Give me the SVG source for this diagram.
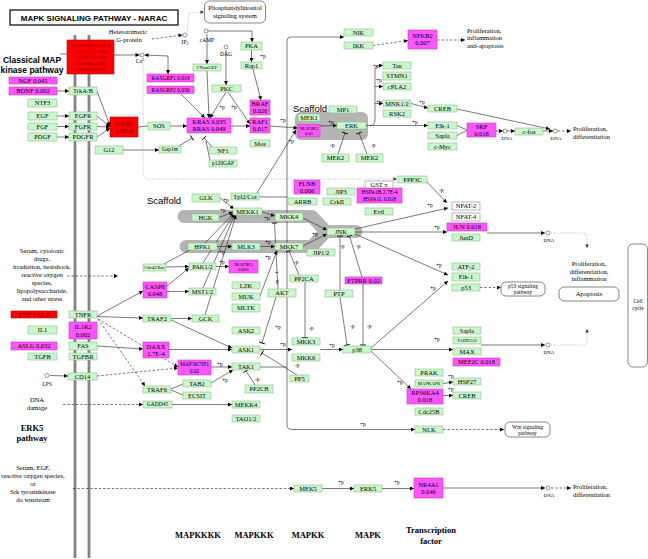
<svg xmlns="http://www.w3.org/2000/svg" width="648" height="559" viewBox="0 0 648 559">
<style>
.g{fill:#ccf7cc;stroke:#8cbf8c;stroke-width:.6}
.m{fill:#ff55ff;stroke:#c040c0;stroke-width:.6}
.r{fill:#ff0000;stroke:#c00000;stroke-width:.6}
.w{fill:#fff;stroke:#888;stroke-width:.6}
.pw{fill:#fff;stroke:#555;stroke-width:.7}
text{font-family:"Liberation Serif","Times New Roman",serif;fill:#000}
.t{font-size:6.5px;text-anchor:middle}
.s{font-size:5.5px;text-anchor:middle}
.xs{font-size:4.6px;text-anchor:middle}
.rt{fill:#7a0000}
.a{font-size:6.5px;text-anchor:middle}
.al{font-size:6.5px}
.p{font-size:5.5px;fill:#222}
.dna{font-size:5px;text-anchor:middle}
.bs{font-weight:bold;font-size:8.5px;text-anchor:middle}
.sf{font-family:"Liberation Sans",Arial,sans-serif}
.c path{fill:none;stroke:#222;stroke-width:.6}
.c .ar{marker-end:url(#a)}
.c .in{marker-end:url(#b)}
.c .da{stroke-dasharray:2.5 1.8}
.c .dt{stroke:#999;stroke-dasharray:1 1.2;marker-end:url(#ag)}
.ci{fill:#fff;stroke:#333;stroke-width:.5}
</style>
<defs>
<marker id="a" viewBox="0 0 6 6" refX="6" refY="3" markerWidth="4.5" markerHeight="4" markerUnits="userSpaceOnUse" orient="auto-start-reverse"><path d="M0,0 L6,3 L0,6 z" fill="#000"/></marker>
<marker id="ag" viewBox="0 0 6 6" refX="6" refY="3" markerWidth="4" markerHeight="3.5" markerUnits="userSpaceOnUse" orient="auto"><path d="M0,0 L6,3 L0,6 z" fill="#333"/></marker>
<marker id="b" viewBox="0 0 2 8" refX="1" refY="4" markerWidth="1.5" markerHeight="6" markerUnits="userSpaceOnUse" orient="auto"><path d="M1,0 V8" stroke="#000" stroke-width="1.2"/></marker>
</defs>
<rect width="648" height="559" fill="#fff"/>

<!-- membrane -->
<g id="membrane" stroke="#858585" stroke-width="2.8">
<line x1="75" y1="35" x2="75" y2="558"/>
<line x1="89" y1="35" x2="89" y2="558"/>
</g>

<!-- scaffolds -->
<g id="scaffolds" fill="none" stroke="#b4b4b4" stroke-linecap="round" stroke-linejoin="round">
<rect x="295" y="112" width="73" height="28" rx="6" fill="#b4b4b4" stroke="none"/>
<path d="M184,216.5 L312,216.5 L326,231.5 L356,231.5 M186,246.5 L312,246.5 L326,231.5" stroke-width="13"/>
</g>

<!-- titles and annotations -->
<g id="title">
<rect x="10" y="10" width="168" height="15" fill="#fff" stroke="#000" stroke-width="1.2"/>
<text class="sf" x="94" y="20.8" font-size="8" font-weight="bold" text-anchor="middle">MAPK SIGNALING PATHWAY - NARAC</text>
</g>
<g id="annotations">
<text class="sf" x="32" y="63" font-size="8.5" font-weight="bold" text-anchor="middle">Classical MAP</text>
<text class="sf" x="32" y="73" font-size="8.5" font-weight="bold" text-anchor="middle">kinase pathway</text>
<text class="sf" x="293" y="111.5" font-size="9.5">Scaffold</text>
<text class="sf" x="147" y="204" font-size="9.5">Scaffold</text>
<text class="a" x="128" y="34">Heterotrimeric</text>
<text class="a" x="129" y="41.5">G-protein</text>
<text class="s" x="185" y="44">IP<tspan font-size="4" dy="1">3</tspan></text>
<text class="s" x="141" y="63">Ca<tspan font-size="4" dy="-2">2+</tspan></text>
<text class="s" x="207" y="41.5">cAMP</text>
<text class="s" x="226" y="56">DAG</text>
<text class="s" x="47" y="386">LPS</text>
<g class="a">
<text x="42" y="252.5">Serum, cytotoxic</text>
<text x="42" y="260.5">drugs,</text>
<text x="42" y="268.5">irradiation, heatshock,</text>
<text x="42" y="276.5">reactive oxygen</text>
<text x="42" y="284.5">species,</text>
<text x="42" y="292.5">lipopolysaccharide,</text>
<text x="42" y="300.5">and other stress</text>
<text x="37" y="402">DNA</text>
<text x="37" y="410">damage</text>
<text x="33" y="469.5">Serum, EGF,</text>
<text x="33" y="477.5">reactive oxygen species,</text>
<text x="33" y="485.5">or</text>
<text x="33" y="493.5">Srk tyrosinkinase</text>
<text x="33" y="501.5">do wnstream</text>
<text x="589" y="266">Proliferation,</text>
<text x="589" y="273.5">differentiation,</text>
<text x="589" y="281">inflammation</text>
</g>
<text class="bs" x="32" y="431" font-size="8">ERK5</text>
<text class="bs" x="32" y="441" font-size="8">pathway</text>
<g class="al">
<text x="467" y="32.5">Proliferation,</text>
<text x="467" y="40">inflammation</text>
<text x="467" y="48">anti-apoptosis</text>
<text x="573" y="130.5">Proliferation,</text>
<text x="573" y="138.5">differentiation</text>
<text x="573" y="489">Proliferation,</text>
<text x="573" y="497">differentiation</text>
</g>
<g class="dna">
<text x="507" y="140">DNA</text>
<text x="556" y="140">DNA</text>
<text x="549" y="242">DNA</text>
<text x="549" y="354">DNA</text>
<text x="549" y="497">DNA</text>
</g>
<text class="bs" x="198" y="538">MAPKKKK</text>
<text class="bs" x="254" y="538">MAPKKK</text>
<text class="bs" x="308" y="538">MAPKK</text>
<text class="bs" x="368" y="538">MAPK</text>
<text class="bs" x="431" y="533">Transcription</text>
<text class="bs" x="431" y="544">factor</text>
</g>

<!-- connectors -->
<g id="connectors" class="c">
<path class="ar" d="M57,91 L69,91"/>
<path class="ar" d="M57,116 L69,116"/>
<path class="ar" d="M57,126.5 L69,126.5"/>
<path class="ar" d="M57,137 L69,137"/>
<path class="ar" d="M97,91 L110,126"/>
<path class="ar" d="M97,116 L110,126.5"/>
<path class="ar" d="M97,126.5 L110,127"/>
<path class="ar" d="M97,137 L110,128"/>
<path d="M138,127 L148,126"/>
<path class="ar" d="M170,126 L187,126"/>
<path class="ar" d="M123,150 L159,150"/>
<path class="in" d="M179,146 L192,138"/>
<path class="in" d="M212,147 L204,138"/>
<path d="M210,160.5 L206,141"/>
<path class="ar" d="M231,126 L250,126"/>
<path class="ar" d="M226,92 L210,118"/>
<path class="ar" d="M228,92 L250,124"/>
<path class="ar" d="M226,50 L226,85"/>
<path class="ar" d="M207,34 L207,64"/>
<path class="ar" d="M207,71 L209,118"/>
<path class="ar" d="M208,31 L252,31 L252,42"/>
<path class="ar" d="M251.5,50 L251.5,62"/>
<path class="ar" d="M253,69 L261,100"/>
<path class="ar" d="M180,93 L205,118"/>
<path d="M60,54 L67,54"/>
<path class="ar" d="M114,55 L139.5,55"/>
<path class="ar" d="M144.5,55 L168,56 L168,74" style="marker-start:url(#a)"/>
<path class="ar da" d="M152,39 L182.5,35"/>
<path class="dt" d="M187,31.5 L189,13 L204,12"/>
<path class="dt" d="M143,58 L143,173 Q143,179 149,179 L397,179"/>
<path class="ar" d="M270,126 L297.5,128"/>
<path class="ar" d="M257,193 L296,130"/>
<path class="ar" d="M320,126 L337,125.5"/>
<path class="in" d="M338,154 L345,133"/>
<path class="in" d="M367,154 L359,133"/>
<path class="ar" d="M366,125.5 L428,125.5"/>
<path class="ar" d="M370,125.5 Q375,125.5 375,120 L375,70 Q375,65.5 380,65.5 L383,65.5"/>
<path class="ar" d="M375,86.5 L383,86.5"/>
<path class="ar" d="M375,103.5 L383,103.5"/>
<path class="ar" d="M411,103.5 L428,108"/>
<path class="ar" d="M457,109 L550,129"/>
<path d="M457,125.5 L467,130 M457,135.5 L467,130.5"/>
<path class="ar" d="M496,131 L503,131"/>
<path class="ar" d="M507,131 L515,131"/>
<path class="ar" d="M543,131 L553,131"/>
<path class="ar da" d="M557.5,131 L571,131"/>
<path class="ar" d="M287,425 L287,41 Q287,37 291,37 L344,37"/>
<path class="ar" d="M287,425 Q287,429.5 291.5,429.5 L415,429.5"/>
<path d="M259,197 L287,197"/>
<path d="M260,367 L287,367"/>
<path class="ar da" d="M373,45.5 L408,40.5"/>
<path class="ar da" d="M437,40 L465,40"/>
<path class="ar" d="M220,198 L234,209"/>
<path class="ar" d="M219,217.5 L233,212"/>
<path class="ar" d="M205,243 L234,213"/>
<path class="ar" d="M203,263 L234.5,213.5"/>
<path class="ar" d="M203,288 L235,214"/>
<path class="ar" d="M205,315 L236,215"/>
<path class="ar" d="M262,212 L275,216"/>
<path class="ar" d="M217,246.5 L232,246.5"/>
<path class="ar" d="M260,246.5 L275,246.5"/>
<path class="ar" d="M260,296 L277,250.5"/>
<path class="ar" d="M303,218 L327,230"/>
<path class="ar" d="M303,246 L327,234"/>
<path class="ar" d="M166,267 L189,266.5"/>
<path class="ar" d="M167,286 L189,268"/>
<path class="ar" d="M167,291.5 L189,291.5"/>
<path d="M164,264 L190,250"/>
<path class="ar" d="M216,266.5 L229,266.5"/>
<path class="ar" d="M97,316 L143,291"/>
<path class="ar" d="M97,316.5 L143,318"/>
<path class="ar" d="M97,346 L143,349"/>
<path class="ar" d="M171,318.5 L192,318.5"/>
<path class="ar" d="M171,320 L232,348"/>
<path class="ar" d="M169,349.5 L232,349.5"/>
<path class="ar" d="M260,349.5 L292,349.5"/>
<path class="ar" d="M320,349.5 L343,349.5"/>
<path class="in" d="M276,297 L262,343"/>
<path class="in" d="M278,289 L274.5,223"/>
<path class="in" d="M299,275 L289,251"/>
<path class="in" d="M305,282 L305,337.5"/>
<path class="in" d="M297,375 L262,353"/>
<path class="ar" d="M211,367 L232,367"/>
<path class="ar" d="M211,383 L233,370"/>
<path class="in" d="M255,385 L246,371"/>
<path d="M171,389 L183,384 M171,390 L183,395"/>
<path class="ar" d="M172,404.5 L232,404.5"/>
<path class="ar da" d="M98,319 L145,386"/>
<path class="ar da" d="M98,319 L178,367"/>
<path class="ar da" d="M97,376 L178,368"/>
<path class="ar" d="M50,375.5 L68,376"/>
<path class="ar da" d="M63,404.5 L143,404.5"/>
<path class="ar da" d="M67,276 L118,276"/>
<path class="ar" d="M355,229 L448,208"/>
<path class="ar" d="M427,182 L447,203"/>
<path class="ar" d="M355,232 L447,232"/>
<path class="ar" d="M487,233 L545,233"/>
<path class="dt" d="M551,233 L583,233 Q587,233 587,238 L587,248"/>
<path class="ar" d="M355,234 L448,275"/>
<path class="ar" d="M371,348 L448,281"/>
<path class="ar da" d="M480,287.5 L501,287.5"/>
<path class="in" d="M340,290 L340,236"/>
<path class="in" d="M362,277 L349.5,236"/>
<path class="in" d="M340,297 L347,345"/>
<path class="in" d="M363,284 L363,345"/>
<path class="ar" d="M371,349.5 L453,349.5"/>
<path class="ar" d="M481,345 L545,345"/>
<path class="dt" d="M551,345 L583,345 Q587,345 587,340 L587,329"/>
<path class="ar" d="M371,351 L411,389"/>
<path class="ar" d="M443,383.5 L453,382"/>
<path class="ar" d="M443,395.5 L453,395.5"/>
<path class="ar da" d="M443,429.5 L504,429.5"/>
<path class="ar da" d="M73,488.5 L294,488.5"/>
<path class="ar" d="M322,488.5 L354,488.5"/>
<path class="ar" d="M382,488.5 L414,488.5"/>
<path class="ar" d="M443,488 L545,488"/>
<path class="ar da" d="M551,488 L571,488"/>
</g>

<!-- phosphorylation labels -->
<g id="plabels" class="p">
<text x="260" y="58">+p</text><text x="219" y="109">+p</text><text x="231" y="109">+p</text>
<text x="280" y="122">+p</text><text x="288" y="143">+p</text><text x="328" y="124">+p</text>
<text x="330" y="147">-p</text><text x="371" y="147">-p</text><text x="373" y="68">+p</text>
<text x="376" y="82">+p</text><text x="376" y="104">+p</text><text x="419" y="104">+p</text>
<text x="412" y="124">+p</text><text x="223" y="202">+p</text><text x="220" y="212">+p</text>
<text x="264" y="220">+p</text><text x="312" y="236">+p</text><text x="265" y="244">+p</text>
<text x="219" y="254">+p</text><text x="265" y="259">+p</text><text x="219" y="264">+p</text>
<text x="294" y="264">-p</text><text x="275" y="275">+</text><text x="276" y="283">p</text>
<text x="275" y="329">+p</text><text x="309" y="330">-p</text><text x="280" y="346">+p</text>
<text x="295" y="367">-p</text><text x="217" y="366">+p</text><text x="222" y="382">+p</text>
<text x="255" y="381">-p</text><text x="329" y="347">+p</text><text x="340" y="248">-p</text>
<text x="356" y="248">-p</text><text x="350" y="328">-p</text><text x="367" y="328">-p</text>
<text x="427" y="207">+p</text><text x="439" y="192">-p</text><text x="434" y="229">+p</text>
<text x="436" y="267">+p</text><text x="430" y="290">+p</text><text x="434" y="341">+p</text>
<text x="397" y="384">+p</text><text x="448" y="378">+p</text><text x="448" y="391">+p</text>
<text x="360" y="426">+p</text><text x="338" y="484">+p</text><text x="394" y="484">+p</text>
</g>

<!-- compounds -->
<g id="compounds" class="ci">
<circle cx="185" cy="35" r="2"/><circle cx="206" cy="31" r="2"/><circle cx="226" cy="47" r="2"/>
<circle cx="142" cy="55" r="2"/><circle cx="505" cy="131" r="2"/><circle cx="555" cy="131" r="2"/>
<circle cx="548" cy="233" r="2"/><circle cx="548" cy="345" r="2"/><circle cx="548" cy="488" r="2"/>
<circle cx="47" cy="375.5" r="2"/>
</g>

<!-- pathway maps -->
<g id="map-phosphatidylinositol"><rect class="pw" x="204.5" y="1" width="61" height="22" rx="5"/><text class="a" x="235" y="9.5">Phosphatidylinositol</text><text class="a" x="235" y="17.5">signaling system</text></g>
<g id="map-p53"><rect class="pw" x="501" y="282" width="44" height="14" rx="5"/><text class="s" x="523" y="288">p53 signaling</text><text class="s" x="523" y="294">pathway</text></g>
<g id="map-apoptosis"><rect class="pw" x="559" y="287" width="60" height="14" rx="5"/><text class="a" x="589" y="296">Apoptosis</text></g>
<g id="map-cellcycle"><rect class="pw" x="628" y="244" width="19.5" height="123" rx="5"/><text class="s" x="638" y="303">Cell</text><text class="s" x="638" y="310">cycle</text></g>
<g id="map-wnt"><rect class="pw" x="505" y="422" width="45" height="15" rx="5"/><text class="s" x="527.5" y="428.5">Wnt signaling</text><text class="s" x="527.5" y="435">pathway</text></g>

<!-- nodes: left -->
<g id="NGF"><rect class="m" x="9" y="77" width="48" height="7"/><text class="t" x="33" y="82.6">NGF 0.045</text></g>
<g id="BDNF"><rect class="m" x="9" y="87" width="48" height="8"/><text class="t" x="33" y="93.1">BDNF 0.002</text></g>
<g id="TrkAB"><rect class="g" x="69" y="87" width="28" height="8"/><text class="t" x="83" y="93.1">TrkA/B</text></g>
<g id="NTF3"><rect class="g" x="28" y="99" width="29" height="8"/><text class="t" x="42.5" y="105.1">NTF3</text></g>
<g id="EGF"><rect class="g" x="28" y="112" width="29" height="8"/><text class="t" x="42.5" y="118.1">EGF</text></g>
<g id="EGFR"><rect class="g" x="69" y="112" width="28" height="8"/><text class="t" x="83" y="118.1">EGFR</text></g>
<g id="FGF"><rect class="g" x="28" y="123" width="29" height="7"/><text class="t" x="42.5" y="128.6">FGF</text></g>
<g id="FGFR"><rect class="g" x="69" y="123" width="28" height="7"/><text class="t" x="83" y="128.6">FGFR</text></g>
<g id="PDGF"><rect class="g" x="28" y="133" width="29" height="8"/><text class="t" x="42.5" y="139.1">PDGF</text></g>
<g id="PDGFR"><rect class="g" x="69" y="133" width="28" height="8"/><text class="t" x="83" y="139.1">PDGFR</text></g>
<g id="CACNA"><rect class="r" x="67" y="40" width="47" height="34"/>
<g class="rt" font-size="4.5" text-anchor="middle"><text class="rt" x="90.5" y="46.5">CACNA2D3 1.99E-4</text><text class="rt" x="90.5" y="52.7">CACNA1C 0.004</text><text class="rt" x="90.5" y="58.9">CACNA1G 0.038</text><text class="rt" x="90.5" y="65.1">CACNB4 0.002</text><text class="rt" x="90.5" y="71.3">CACNG8 0.026</text></g></g>
<g id="GRB2"><rect class="r" x="110" y="117" width="28" height="20"/><text class="t rt" x="124" y="125.5">GRB2</text><text class="t rt" x="124" y="133">5.6E-6</text></g>
<g id="G12"><rect class="g" x="95" y="146" width="28" height="8"/><text class="t" x="109" y="152.1">G12</text></g>
<g id="SOS"><rect class="g" x="148" y="122" width="22" height="8"/><text class="t" x="159" y="128.1">SOS</text></g>
<g id="Gap1m"><rect class="g" x="159" y="146" width="22" height="7"/><text class="s" x="170" y="151.4">Gap1m</text></g>
<g id="RASGRF1"><rect class="m" x="147" y="74" width="47" height="8"/><text class="s" x="170.5" y="79.9">RASGRF1 0.019</text></g>
<g id="RASGRP2"><rect class="m" x="147" y="86" width="47" height="7.5"/><text class="s" x="170.5" y="91.7">RASGRP2 0.030</text></g>
<g id="CNrasGEF"><rect class="g" x="193" y="64" width="28" height="7"/><text class="xs" x="207" y="69.2">CNrasGEF</text></g>
<g id="PKA"><rect class="g" x="241" y="42" width="21" height="8"/><text class="t" x="251.5" y="48.1">PKA</text></g>
<g id="Rap1"><rect class="g" x="241" y="62" width="21" height="7"/><text class="t" x="251.5" y="67.6">Rap1</text></g>
<g id="PKC"><rect class="g" x="212" y="85" width="29" height="7"/><text class="t" x="226.5" y="90.6">PKC</text></g>
<g id="KRAS"><rect class="m" x="187" y="118" width="44" height="15"/><text class="t" x="209" y="124.3">KRAS 0.035</text><text class="t" x="209" y="131">RRAS 0.049</text></g>
<g id="NF1"><rect class="g" x="209" y="147" width="28" height="7"/><text class="t" x="223" y="152.6">NF1</text></g>
<g id="p120GAP"><rect class="g" x="209" y="160" width="28" height="7"/><text class="s" x="223" y="165.4">p120GAP</text></g>
<g id="BRAF"><rect class="m" x="250" y="100" width="20" height="15"/><text class="t" x="260" y="106.3">BRAF</text><text class="t" x="260" y="113">0.026</text></g>
<g id="RAF1"><rect class="m" x="250" y="118" width="20" height="15"/><text class="t" x="260" y="124.3">RAF1</text><text class="t" x="260" y="131">0.017</text></g>
<g id="Mos"><rect class="g" x="250" y="140" width="20" height="7"/><text class="t" x="260" y="145.6">Mos</text></g>
<g id="MEK1"><rect class="g" x="298" y="114" width="22" height="7"/><text class="t" x="309" y="119.6">MEK1</text></g>
<g id="MAP2K2"><rect class="m" x="298" y="124.5" width="22" height="12.5"/><text class="xs" x="309" y="129.7">MAP2K2</text><text class="xs" x="309" y="135">0.01</text></g>
<g id="MP1"><rect class="g" x="329" y="106" width="28" height="7"/><text class="t" x="343" y="111.6">MP1</text></g>
<g id="ERK"><rect class="g" x="337" y="122" width="29" height="7"/><text class="t" x="351.5" y="127.6">ERK</text></g>
<g id="MEK2a"><rect class="g" x="322" y="154" width="27" height="8"/><text class="t" x="335.5" y="160.1">MEK2</text></g>
<g id="MEK2b"><rect class="g" x="356" y="154" width="27" height="8"/><text class="t" x="369.5" y="160.1">MEK2</text></g>
<g id="NIK"><rect class="g" x="344" y="29" width="29" height="7"/><text class="t" x="358.5" y="34.6">NIK</text></g>
<g id="IKK"><rect class="g" x="344" y="42" width="29" height="7"/><text class="t" x="358.5" y="47.6">IKK</text></g>
<g id="NFKB2"><rect class="m" x="408" y="30" width="29" height="19"/><text class="t" x="422.5" y="38">NFKB2</text><text class="t" x="422.5" y="45">0.007</text></g>
<g id="Tau"><rect class="g" x="383" y="62" width="28" height="7"/><text class="t" x="397" y="67.6">Tau</text></g>
<g id="STMN1"><rect class="g" x="383" y="72" width="28" height="8"/><text class="t" x="397" y="78.1">STMN1</text></g>
<g id="cPLA2"><rect class="g" x="383" y="83" width="28" height="7"/><text class="t" x="397" y="88.6">cPLA2</text></g>
<g id="MNK12"><rect class="g" x="383" y="100" width="28" height="7"/><text class="t" x="397" y="105.6">MNK1/2</text></g>
<g id="RSK2"><rect class="g" x="383" y="110" width="28" height="7"/><text class="t" x="397" y="115.6">RSK2</text></g>
<g id="CREB"><rect class="g" x="428" y="105" width="29" height="7"/><text class="t" x="442.5" y="110.6">CREB</text></g>
<g id="Elk1"><rect class="g" x="428" y="122" width="29" height="7"/><text class="t" x="442.5" y="127.6">Elk-1</text></g>
<g id="Sapla"><rect class="g" x="428" y="132" width="29" height="7"/><text class="t" x="442.5" y="137.6">Sapla</text></g>
<g id="cMyc"><rect class="g" x="428" y="143" width="29" height="7"/><text class="t" x="442.5" y="148.6">c-Myc</text></g>
<g id="SRF"><rect class="m" x="467" y="123" width="29" height="14"/><text class="t" x="481.5" y="129">SRF</text><text class="t" x="481.5" y="135.5">0.018</text></g>
<g id="cfos"><rect class="g" x="515" y="128" width="28" height="7"/><text class="t" x="529" y="133.6">c-fos</text></g>

<!-- nodes: middle -->
<g id="FLNB"><rect class="m" x="294" y="180" width="26" height="14"/><text class="t" x="307" y="186">FLNB</text><text class="t" x="307" y="192.5">0.006</text></g>
<g id="ARRB"><rect class="g" x="288" y="198" width="29" height="7"/><text class="t" x="302.5" y="203.6">ARRB</text></g>
<g id="GLK"><rect class="g" x="192" y="194" width="28" height="8"/><text class="t" x="206" y="200.1">GLK</text></g>
<g id="Tpl2Cot"><rect class="g" x="231" y="193" width="28" height="7"/><text class="t" x="245" y="198.6">Tpl2/Cot</text></g>
<g id="HGK"><rect class="g" x="192" y="214" width="27" height="7"/><text class="t" x="205.5" y="219.6">HGK</text></g>
<g id="MEKK1"><rect class="g" x="233" y="208" width="29" height="7"/><text class="t" x="247.5" y="213.6">MEKK1</text></g>
<g id="MKK4"><rect class="g" x="275" y="213" width="28" height="8"/><text class="t" x="289" y="219.1">MKK4</text></g>
<g id="HPK1"><rect class="g" x="188" y="243" width="29" height="7"/><text class="t" x="202.5" y="248.6">HPK1</text></g>
<g id="MLK3"><rect class="g" x="232" y="243" width="28" height="7"/><text class="t" x="246" y="248.6">MLK3</text></g>
<g id="MKK7"><rect class="g" x="275" y="243" width="28" height="7"/><text class="t" x="289" y="248.6">MKK7</text></g>
<g id="JIP12"><rect class="g" x="307" y="249" width="28" height="7"/><text class="t" x="321" y="254.6">JIP1/2</text></g>
<g id="JIP3"><rect class="g" x="327" y="188" width="28" height="7"/><text class="t" x="341" y="193.6">JIP3</text></g>
<g id="CrkII"><rect class="g" x="323" y="198" width="28" height="7"/><text class="t" x="337" y="203.6">CrkII</text></g>
<g id="HSPA1"><rect class="m" x="357" y="188" width="45" height="15"/><text class="s" x="379.5" y="194.2">HSPA1B 2.7E-4</text><text class="s" x="379.5" y="200.8">HSPA1L 0.018</text></g>
<g id="GST"><rect class="w" x="365" y="181" width="28" height="7"/><text class="t" x="379" y="186.6">GST π</text></g>
<g id="Evil"><rect class="g" x="365" y="208" width="28" height="7"/><text class="t" x="379" y="213.6">Evil</text></g>
<g id="PPP3C"><rect class="g" x="398" y="176" width="29" height="7"/><text class="t" x="412.5" y="181.6">PPP3C</text></g>
<g id="NFAT2"><rect class="w" x="452" y="202" width="28" height="8"/><text class="t" x="466" y="208.1">NFAT-2</text></g>
<g id="NFAT4"><rect class="w" x="452" y="213" width="28" height="8"/><text class="t" x="466" y="219.1">NFAT-4</text></g>
<g id="JNK"><rect class="g" x="327" y="228" width="28" height="7"/><text class="t" x="341" y="233.6">JNK</text></g>
<g id="JUN"><rect class="m" x="447" y="223" width="40" height="8"/><text class="t" x="467" y="229.1">JUN 0.018</text></g>
<g id="JunD"><rect class="g" x="452" y="234" width="28" height="7"/><text class="t" x="466" y="239.6">JunD</text></g>
<g id="ATF2"><rect class="g" x="452" y="263" width="28" height="7"/><text class="t" x="466" y="268.6">ATF-2</text></g>
<g id="Elk1b"><rect class="g" x="452" y="273" width="28" height="8"/><text class="t" x="466" y="279.1">Elk-1</text></g>
<g id="p53"><rect class="g" x="452" y="284" width="28" height="7"/><text class="t" x="466" y="289.6">p53</text></g>
<g id="PTPRR"><rect class="m" x="345" y="277" width="37" height="7"/><text class="t" x="363.5" y="282.6">PTPRR 0.02</text></g>
<g id="PTP"><rect class="g" x="325" y="290" width="28" height="7"/><text class="t" x="339" y="295.6">PTP</text></g>
<g id="Cdc42Rac"><rect class="g" x="143" y="264" width="23" height="7"/><text class="xs" x="154.5" y="269.2">Cdc42/Rac</text></g>
<g id="PAK12"><rect class="g" x="189" y="263" width="27" height="7"/><text class="t" x="202.5" y="268.6">PAK1/2</text></g>
<g id="MAP3K5"><rect class="m" x="229" y="260" width="29" height="13"/><text class="xs" x="243.5" y="265.5">MAP3K5</text><text class="xs" x="243.5" y="271">0.016</text></g>
<g id="CASP8"><rect class="m" x="143" y="282" width="24" height="16"/><text class="t" x="155" y="288.7">CASP8</text><text class="t" x="155" y="295.5">0.048</text></g>
<g id="MST12"><rect class="g" x="189" y="288" width="27" height="7"/><text class="t" x="202.5" y="293.6">MST1/2</text></g>
<g id="LZK"><rect class="g" x="232" y="282" width="28" height="7"/><text class="t" x="246" y="287.6">LZK</text></g>
<g id="MUK"><rect class="g" x="232" y="293" width="28" height="7"/><text class="t" x="246" y="298.6">MUK</text></g>
<g id="MLTK"><rect class="g" x="232" y="304" width="28" height="8"/><text class="t" x="246" y="310.1">MLTK</text></g>
<g id="AKT"><rect class="g" x="268" y="289" width="28" height="8"/><text class="t" x="282" y="295.1">AKT</text></g>
<g id="PP2CA"><rect class="g" x="290" y="275" width="28" height="7"/><text class="t" x="304" y="280.6">PP2CA</text></g>
<g id="TRAF2"><rect class="g" x="143" y="315" width="28" height="7"/><text class="t" x="157" y="320.6">TRAF2</text></g>
<g id="GCK"><rect class="g" x="192" y="315" width="27" height="7"/><text class="t" x="205.5" y="320.6">GCK</text></g>
<g id="ASK2"><rect class="g" x="232" y="327" width="28" height="7"/><text class="t" x="246" y="332.6">ASK2</text></g>
<g id="DAXX"><rect class="m" x="143" y="342" width="26" height="16"/><text class="t" x="156" y="348.7">DAXX</text><text class="t" x="156" y="355.5">1.7E-4</text></g>
<g id="ASK1"><rect class="g" x="232" y="346" width="28" height="7"/><text class="t" x="246" y="351.6">ASK1</text></g>
<g id="MKK3"><rect class="g" x="292" y="338" width="28" height="7"/><text class="t" x="306" y="343.6">MKK3</text></g>
<g id="MKK6"><rect class="g" x="292" y="354" width="28" height="7"/><text class="t" x="306" y="359.6">MKK6</text></g>
<g id="p38"><rect class="g" x="343" y="346" width="28" height="7"/><text class="t" x="357" y="351.6">p38</text></g>
<g id="Sapla2"><rect class="g" x="453" y="327" width="28" height="7"/><text class="t" x="467" y="332.6">Sapla</text></g>
<g id="FADD153"><rect class="g" x="453" y="337" width="28" height="7"/><text class="xs" x="467" y="342.2">FADD153</text></g>
<g id="MAX"><rect class="g" x="453" y="348" width="28" height="7"/><text class="t" x="467" y="353.6">MAX</text></g>
<g id="MEF2C"><rect class="m" x="453" y="358" width="47" height="8"/><text class="t" x="476.5" y="364.1">MEF2C 0.018</text></g>
<g id="MAP3K7IP1"><rect class="m" x="178" y="360" width="33" height="15"/><text class="s" x="194.5" y="366.2">MAP3K7IP1</text><text class="s" x="194.5" y="372.8">0.02</text></g>
<g id="TAK1"><rect class="g" x="232" y="363" width="28" height="7"/><text class="t" x="246" y="368.6">TAK1</text></g>
<g id="PRAK"><rect class="g" x="415" y="369" width="28" height="7"/><text class="t" x="429" y="374.6">PRAK</text></g>
<g id="MAPKAPK"><rect class="g" x="415" y="380" width="28" height="7"/><text class="xs" x="429" y="385.2">MAPKAPK</text></g>
<g id="HSP27"><rect class="g" x="453" y="378" width="28" height="7"/><text class="t" x="467" y="383.6">HSP27</text></g>
<g id="RPS6KA4"><rect class="m" x="407" y="389" width="36" height="15"/><text class="t" x="425" y="395.3">RPS6KA4</text><text class="t" x="425" y="402">0.018</text></g>
<g id="CREB2"><rect class="g" x="453" y="392" width="28" height="7"/><text class="t" x="467" y="397.6">CREB</text></g>
<g id="Cdc25B"><rect class="g" x="415" y="408" width="28" height="7"/><text class="t" x="429" y="413.6">Cdc25B</text></g>
<g id="PP5"><rect class="g" x="290" y="375" width="19" height="7"/><text class="t" x="299.5" y="380.6">PP5</text></g>
<g id="TRAF6"><rect class="g" x="143" y="386" width="28" height="7"/><text class="t" x="157" y="391.6">TRAF6</text></g>
<g id="TAB2"><rect class="g" x="183" y="380" width="28" height="7"/><text class="t" x="197" y="385.6">TAB2</text></g>
<g id="ECSIT"><rect class="g" x="183" y="392" width="28" height="7"/><text class="t" x="197" y="397.6">ECSIT</text></g>
<g id="PP2CB"><rect class="g" x="245" y="385" width="28" height="8"/><text class="t" x="259" y="391.1">PP2CB</text></g>
<g id="GADD45"><rect class="g" x="143" y="401" width="29" height="7"/><text class="s" x="157.5" y="406.4">GADD45</text></g>
<g id="MEKK4"><rect class="g" x="232" y="401" width="28" height="7"/><text class="t" x="246" y="406.6">MEKK4</text></g>
<g id="TAO12"><rect class="g" x="232" y="415" width="28" height="7"/><text class="t" x="246" y="420.6">TAO1/2</text></g>
<g id="NLK"><rect class="g" x="415" y="426" width="28" height="7"/><text class="t" x="429" y="431.6">NLK</text></g>
<g id="MEK5"><rect class="g" x="294" y="485" width="28" height="7"/><text class="t" x="308" y="490.6">MEK5</text></g>
<g id="ERK5"><rect class="g" x="354" y="485" width="28" height="7"/><text class="t" x="368" y="490.6">ERK5</text></g>
<g id="NR4A1"><rect class="m" x="414" y="478" width="29" height="20"/><text class="t" x="428.5" y="486.5">NR4A1</text><text class="t" x="428.5" y="494">0.046</text></g>

<!-- nodes: left lower -->
<g id="TNF"><rect class="r" x="11" y="311" width="46" height="7"/><text class="t rt" x="34" y="316.6">TNF 1.6E-9</text></g>
<g id="TNFR"><rect class="g" x="69" y="311" width="28" height="7"/><text class="t" x="83" y="316.6">TNFR</text></g>
<g id="IL1R2"><rect class="m" x="69" y="322" width="28" height="17"/><text class="t" x="83" y="329">IL1R2</text><text class="t" x="83" y="336.5">0.002</text></g>
<g id="IL1"><rect class="g" x="28" y="326" width="29" height="8"/><text class="t" x="42.5" y="332.1">IL1</text></g>
<g id="ASLG"><rect class="m" x="11" y="342" width="46" height="8"/><text class="t" x="34" y="348.1">ASLG 0.032</text></g>
<g id="FAS"><rect class="g" x="69" y="342" width="28" height="8"/><text class="t" x="83" y="348.1">FAS</text></g>
<g id="TGFB"><rect class="g" x="28" y="353" width="29" height="7"/><text class="t" x="42.5" y="358.6">TGFB</text></g>
<g id="TGFBR"><rect class="g" x="69" y="353" width="28" height="7"/><text class="t" x="83" y="358.6">TGFBR</text></g>
<g id="CD14"><rect class="g" x="68" y="373" width="29" height="7"/><text class="t" x="82.5" y="378.6">CD14</text></g>
</svg>
